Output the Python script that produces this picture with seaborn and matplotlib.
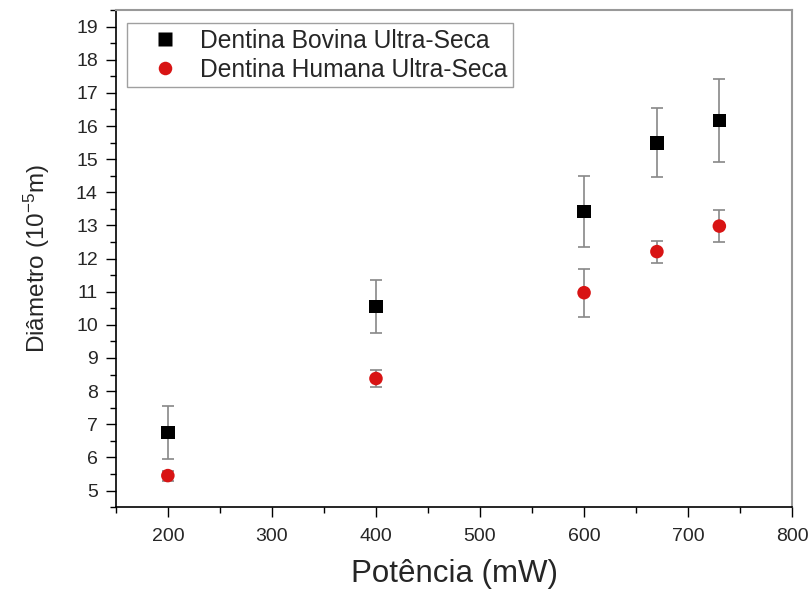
import matplotlib
matplotlib.use("Agg")
import matplotlib.pyplot as plt
import seaborn as sns
import pandas as pd
from matplotlib.ticker import MultipleLocator

potencia = [200, 400, 600, 670, 730]
bovina = [6.75, 10.55, 13.42, 15.49, 16.16]
bovina_err = [0.81, 0.80, 1.06, 1.04, 1.25]
humana = [5.45, 8.38, 10.97, 12.21, 12.98]
humana_err = [0.15, 0.27, 0.72, 0.33, 0.49]
series_names = ["Dentina Bovina Ultra-Seca", "Dentina Humana Ultra-Seca"]
x_ticks = [200, 300, 400, 500, 600, 700, 800]
y_ticks = list(range(5, 20))

sns.set_style("white")
plt.rcParams['font.family'] = ['Liberation Sans', 'DejaVu Sans']
plt.rcParams['mathtext.fontset'] = 'custom'
plt.rcParams['mathtext.rm'] = 'Liberation Sans'
plt.rcParams['mathtext.it'] = 'Liberation Sans'

df = pd.DataFrame({
    "Potência": potencia * 2,
    "Diâmetro": bovina + humana,
    "erro": bovina_err + humana_err,
    "Série": [series_names[0]] * len(potencia) + [series_names[1]] * len(potencia),
})

fig = plt.figure(figsize=(8.1, 5.91), dpi=100)
ax = fig.add_axes([0.143, 0.142, 0.835, 0.841])

colors = {series_names[0]: "black", series_names[1]: "#d81414"}
markers = {series_names[0]: "s", series_names[1]: "o"}

for name in series_names:
    sub = df[df["Série"] == name]
    ax.errorbar(sub["Potência"], sub["Diâmetro"], yerr=sub["erro"], fmt="none",
                ecolor="#888888", elinewidth=1.2, capsize=4, capthick=1.2, zorder=2)

sns.scatterplot(data=df, x="Potência", y="Diâmetro", hue="Série", style="Série",
                palette=colors, markers=markers, s=95, edgecolor="none",
                ax=ax, zorder=3)

ax.set_xlim(150, 800)
ax.set_ylim(4.5, 19.5)
ax.set_xticks(x_ticks)
ax.set_yticks(y_ticks)
ax.xaxis.set_minor_locator(MultipleLocator(50))
ax.yaxis.set_minor_locator(MultipleLocator(0.5))
ax.tick_params(axis="both", which="major", direction="out", length=7, width=1,
               labelsize=14, color="black", bottom=True, left=True, pad=6)
ax.tick_params(axis="x", which="major", pad=8)
ax.tick_params(axis="both", which="minor", direction="out", length=4, width=1,
               color="black", bottom=True, left=True)

for s in ["left", "bottom"]:
    ax.spines[s].set_color("black")
    ax.spines[s].set_linewidth(1.2)
for s in ["top", "right"]:
    ax.spines[s].set_color("#999999")
    ax.spines[s].set_linewidth(1.5)

ax.set_xlabel("Potência (mW)", fontsize=22.5, labelpad=10.5)
ax.set_ylabel("Diâmetro (10$^{-5}$m)", fontsize=17.5, labelpad=17)

leg = ax.legend(loc="upper left", bbox_to_anchor=(0.005, 0.988), fontsize=17.7,
                frameon=True, fancybox=False, edgecolor="#888888",
                handletextpad=0.1, borderpad=0.22, labelspacing=0.2,
                borderaxespad=0.3, markerscale=1.0, handlelength=2.68)
leg.get_frame().set_linewidth(1.0)

fig.savefig("out.png", dpi=100)
